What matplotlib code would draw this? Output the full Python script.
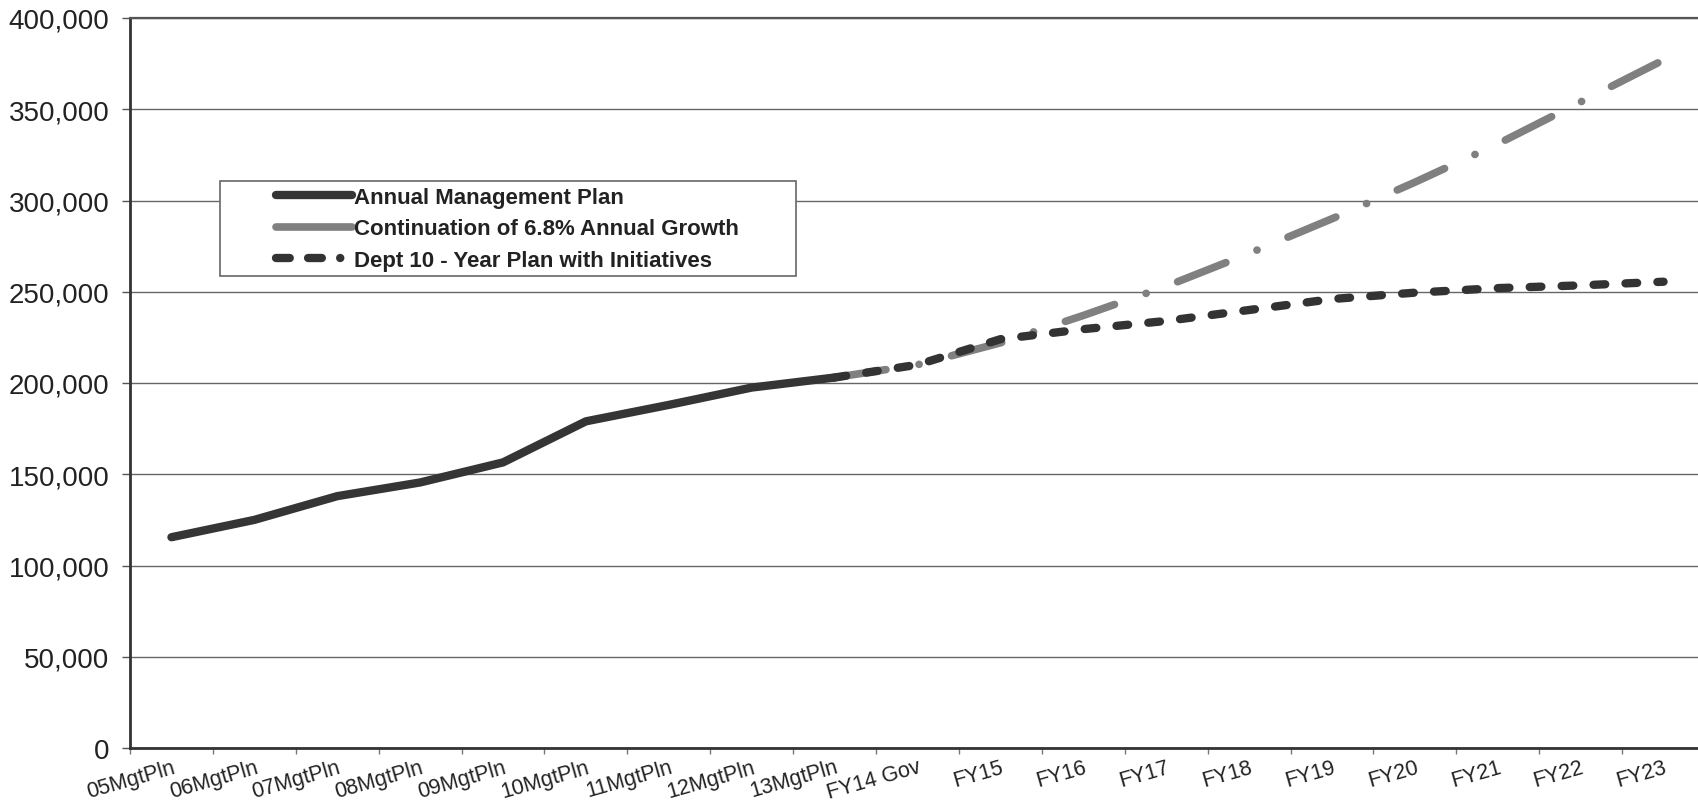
import numpy as np
import matplotlib
matplotlib.use('Agg')
import matplotlib.pyplot as plt
import matplotlib.ticker as ticker
from matplotlib.patches import Rectangle

plt.rcParams['font.family'] = ['Liberation Sans', 'DejaVu Sans']
plt.rcParams['lines.scale_dashes'] = False

categories = ['05MgtPln', '06MgtPln', '07MgtPln', '08MgtPln', '09MgtPln',
              '10MgtPln', '11MgtPln', '12MgtPln', '13MgtPln', 'FY14 Gov',
              'FY15', 'FY16', 'FY17', 'FY18', 'FY19', 'FY20', 'FY21', 'FY22', 'FY23']

# Annual Management Plan: 05MgtPln .. 13MgtPln
mgmt_plan = [115500, 125000, 138000, 145500, 156500, 179000, 188000, 197500, 203000]
# projections start at 13MgtPln and run to FY23
proj_start = 8
growth_68 = [203000, 210000, 222000, 237000, 253000, 271000, 290000, 310000, 331000, 354000, 377000]
dept_plan = [203000, 210000, 224000, 229500, 234000, 240000, 246000, 249500, 252000, 253500, 255500]

labels = ['Annual Management Plan',
          'Continuation of 6.8% Annual Growth',
          'Dept 10 - Year Plan with Initiatives']

W, H = 1699, 804


def plot_chart():
  fig = plt.figure(figsize=(W / 100, H / 100), dpi=100)
  ax = fig.add_axes([130 / W, 1 - 749 / H, (1705 - 130) / W, (749 - 19) / H])
  ax.set_xlim(-0.5, len(categories) - 0.5)
  ax.set_ylim(0, 400000)

  # grid and frame
  ax.yaxis.set_major_locator(ticker.MultipleLocator(50000))
  ax.yaxis.set_major_formatter(ticker.StrMethodFormatter('{x:,.0f}'))
  ax.grid(True, axis='y', color='#666666', lw=1.0, zorder=0)
  ax.set_axisbelow(True)
  ax.spines['right'].set_visible(False)
  ax.spines['top'].set_color('#555555')
  ax.spines['top'].set_linewidth(1.6)
  for s in ['left', 'bottom']:
    ax.spines[s].set_color('#333333')
    ax.spines[s].set_linewidth(2.0)

  ax.tick_params(axis='y', labelsize=20, length=6, width=1, color='#555555',
                 pad=9, labelcolor='#222222')
  # boundary ticks (major) and centered labels (minor)
  ax.set_xticks(np.arange(-0.5, len(categories), 1.0))
  ax.set_xticklabels([])
  ax.tick_params(axis='x', which='major', length=4, width=1, color='#777777')
  ax.set_xticks(np.arange(len(categories)), minor=True)
  ax.set_xticklabels(categories, minor=True, rotation=16, ha='right',
                     rotation_mode='anchor', fontsize=15.5, color='#222222')
  ax.tick_params(axis='x', which='minor', length=0, pad=6)

  # series
  xm = np.arange(len(mgmt_plan))
  xp = np.arange(proj_start, proj_start + len(growth_68))
  ax.plot(xp, growth_68, color='#808080', lw=5.5,
          dashes=(37.4, 24.1, 0.1, 24.1), dash_capstyle='round',
          solid_capstyle='round', zorder=3, clip_on=False)
  ax.plot(xp, dept_plan, color='#333333', lw=6,
          dashes=(8.4, 14.6), dash_capstyle='round',
          solid_capstyle='round', zorder=4, clip_on=False)
  ax.plot(xm, mgmt_plan, color='#353535', lw=6,
          solid_capstyle='round', solid_joinstyle='round', zorder=5)

  # legend box
  box = Rectangle((220 / W, 1 - 277 / H), (796 - 220) / W, (277 - 182) / H,
                  transform=fig.transFigure, facecolor='white',
                  edgecolor='#666666', lw=1.2, zorder=6)
  fig.patches.append(box)
  h1 = plt.Line2D([], [], color='#353535', lw=6, solid_capstyle='round')
  h2 = plt.Line2D([], [], color='#808080', lw=5.5, solid_capstyle='round')
  h3 = plt.Line2D([], [], color='#333333', lw=6,
                  dashes=(9.9, 13.2, 9.9, 13.2, 0.1, 40), dash_capstyle='round')
  leg = fig.legend([h1, h2, h3], labels, loc='upper left',
                   bbox_to_anchor=(276 / W, 1 - 188 / H), frameon=False,
                   borderpad=0, borderaxespad=0, handlelength=3.4,
                   handletextpad=0.1, labelspacing=0.47,
                   prop={'weight': 'bold', 'size': 16})
  leg.set_zorder(7)
  for t in leg.get_texts():
    t.set_color('#222222')

  fig.savefig('out.png', dpi=100)


def main():
  plot_chart()


main()
